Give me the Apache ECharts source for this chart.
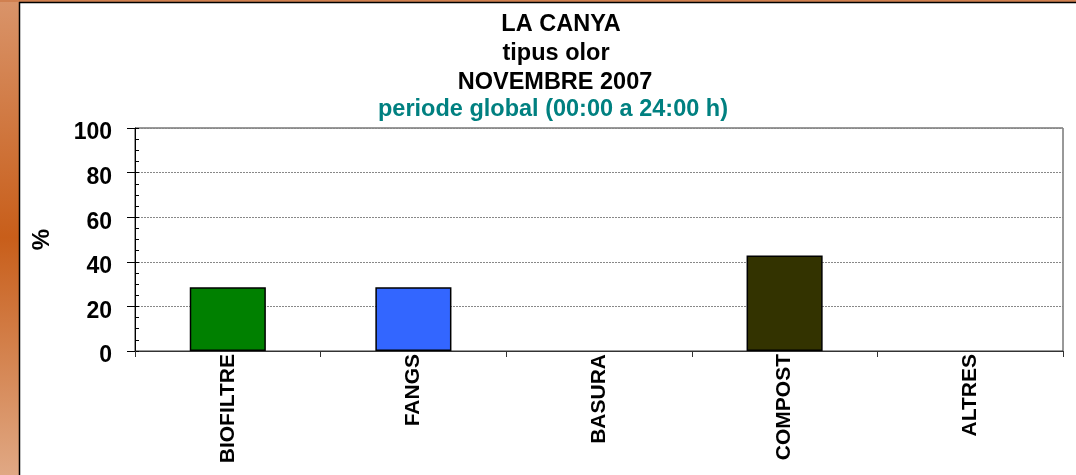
<!DOCTYPE html>
<html><head><meta charset="utf-8">
<script src="https://cdn.jsdelivr.net/npm/echarts@6/dist/echarts.min.js"></script>
<style>html,body{margin:0;padding:0;background:#fff}#c{width:1076px;height:475px}</style>
</head><body><div id="c"></div>
<script>
const categories = ['BIOFILTRE', 'FANGS', 'BASURA', 'COMPOST', 'ALTRES'];
const values = [28.57, 28.57, 0, 42.86, 0];
const barColors = ['#008000', '#3366FF', '#993366', '#333300', '#999999'];
const titleLines = ['LA CANYA', 'tipus olor', 'NOVEMBRE 2007'];
const subtitle = 'periode global (00:00 a 24:00 h)';
const yTicks = [0, 20, 40, 60, 80, 100];

const chart = echarts.init(document.getElementById('c'), null, {renderer: 'canvas'});
const font = '"Liberation Sans", Arial, sans-serif';
const titleY = [25, 54, 83];
const titleX = [561, 556, 555];
const graphics = [
  {type: 'rect', x: 0, y: 0, z: -10, shape: {width: 19, height: 475},
   style: {fill: new echarts.graphic.LinearGradient(0, 0, 0, 1, [
     {offset: 0, color: '#D9946A'}, {offset: 0.5, color: '#C85E1A'}, {offset: 1, color: '#E0A884'}])}},
  {type: 'rect', x: 0, y: 0, z: -10, shape: {width: 1076, height: 2}, style: {fill: '#D08050'}},
  {type: 'line', z: 10, shape: {x1: 19.5, y1: 2, x2: 19.5, y2: 475}, style: {stroke: '#000', lineWidth: 1.5}},
  {type: 'line', z: 10, shape: {x1: 19, y1: 2.5, x2: 1076, y2: 2.5}, style: {stroke: '#000', lineWidth: 1.5}}
];
titleLines.forEach((t, i) => graphics.push({type: 'text', x: titleX[i], y: titleY[i], z: 10,
  style: {text: t, font: 'bold 23.5px ' + font, fill: '#000', align: 'center', verticalAlign: 'middle'}}));
graphics.push({type: 'text', x: 553, y: 110, z: 10,
  style: {text: subtitle, font: 'bold 23.5px ' + font, fill: '#008080', align: 'center', verticalAlign: 'middle'}});

chart.setOption({
  animation: false,
  backgroundColor: '#fff',
  graphic: graphics,
  grid: {left: 135, right: 13, top: 128, bottom: 124, show: true, borderColor: '#333', borderWidth: 1, containLabel: false},
  xAxis: {
    type: 'category', data: categories,
    axisLine: {lineStyle: {color: '#333', width: 1}},
    axisTick: {show: true, alignWithLabel: false, length: 6, lineStyle: {color: '#333'}},
    axisLabel: {rotate: 90, color: '#000', fontWeight: 'bold', fontSize: 21, fontFamily: font, margin: 3}
  },
  yAxis: [{
    type: 'value', min: 0, max: 100, interval: 20,
    name: '%', nameLocation: 'middle', nameGap: 81, nameRotate: 90,
    nameTextStyle: {color: '#000', fontWeight: 'bold', fontSize: 24, fontFamily: font},
    axisLine: {show: true, lineStyle: {color: '#000', width: 1}},
    axisTick: {show: true, length: 8, lineStyle: {color: '#000'}},
    axisLabel: {color: '#000', fontWeight: 'bold', fontSize: 23, fontFamily: font, margin: 23,
      verticalAlign: 'top', lineHeight: 10,
      formatter: v => yTicks.includes(v) ? String(v) : ''},
    splitLine: {show: true, lineStyle: {color: '#888', type: [2, 1], width: 1}}
  }, {
    type: 'value', min: 0, max: 100, interval: 5, position: 'left',
    axisLine: {show: false},
    axisTick: {show: true, inside: true, length: 4, lineStyle: {color: '#000'}},
    axisLabel: {show: false}, splitLine: {show: false}
  }],
  series: [{
    type: 'bar', yAxisIndex: 0, barWidth: '41%',
    data: values.map((v, i) => ({value: v, itemStyle: {color: barColors[i], borderColor: '#000', borderWidth: v > 0 ? 1.5 : 0}}))
  }]
});
</script>
</body></html>
